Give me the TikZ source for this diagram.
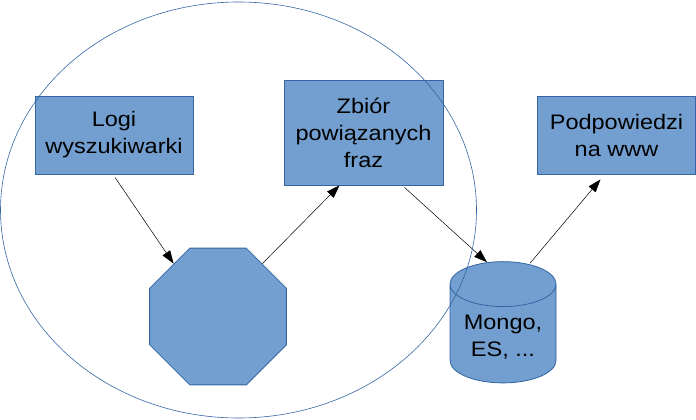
\documentclass[tikz,border=0pt]{standalone}
\usepackage{fontspec}
\setmainfont{Liberation Sans}[FakeStretch=1.12]
\usetikzlibrary{shapes.geometric,arrows.meta}
\definecolor{boxfill}{HTML}{729FCF}
\definecolor{boxline}{HTML}{3465A4}
\definecolor{topfill}{HTML}{A7C4E6}

\begin{document}
\begin{tikzpicture}[x=1pt,y=1pt,
  stage/.style={draw=boxline, fill=boxfill, line width=0.8pt, inner sep=0pt,
    align=center, font=\fontsize{21}{27}\selectfont},
  flow/.style={draw=black, line width=0.5pt, -{Triangle[length=13pt,width=9pt]}}]
  \useasboundingbox (0,0) rectangle (696,-420);
  % boxes
  \node [stage, minimum width=158pt, minimum height=78pt] (logi) at (114,-135) {Logi\\wyszukiwarki};
  \node [stage, minimum width=159pt, minimum height=105pt] (zbior) at (363.5,-132.5) {Zbiór\\powiązanych\\fraz};
  \node [stage, minimum width=158pt, minimum height=78pt] (podp) at (616.5,-135) {Podpowiedzi\\na www};
  \node [stage, regular polygon, regular polygon sides=8, minimum size=148pt] (proc) at (218,-316.5) {};
  \node [stage, cylinder, shape border rotate=90, aspect=0.52, inner sep=4pt, minimum width=106pt, minimum height=121pt,
    cylinder uses custom fill, cylinder body fill=boxfill, cylinder end fill=topfill] (db) at (503,-338)
    {\raisebox{6pt}{\begin{tabular}{@{}c@{}}Mongo,\\ES, ...\end{tabular}}};
  % arrows
  \draw [flow] ([xshift=1pt,yshift=-3pt]logi.south) -- (proc.130);
  \draw [flow] (proc.50) -- ([xshift=-24pt]zbior.south);
  \draw [flow] ([xshift=41pt,yshift=-2pt]zbior.south) -- ([xshift=-16pt,yshift=-1pt]db.top);
  \draw [flow] ([xshift=27pt,yshift=-2pt]db.top) -- ([xshift=-16pt,yshift=-5pt]podp.south);
  % group
  \node [draw=boxline, line width=0.6pt, ellipse, inner sep=0pt, minimum width=476pt, minimum height=416pt] (group) at (238.5,-210) {};
\end{tikzpicture}
\end{document}
